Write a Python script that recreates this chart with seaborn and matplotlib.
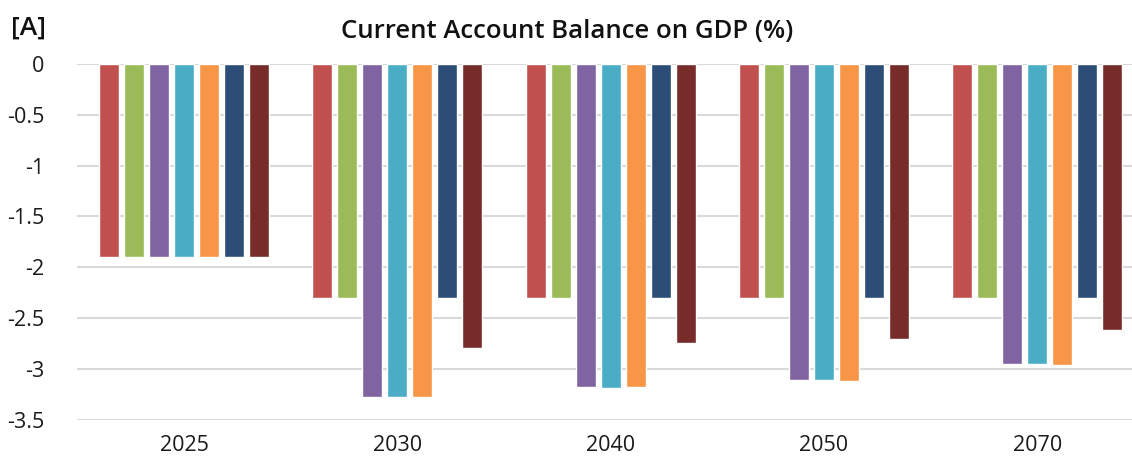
import matplotlib
matplotlib.use("Agg")
import matplotlib.pyplot as plt
import numpy as np
import pandas as pd
import seaborn as sns

years = ["2025", "2030", "2040", "2050", "2070"]
series = ["S1", "S2", "S3", "S4", "S5", "S6", "S7"]
s1 = [-1.90, -2.30, -2.30, -2.30, -2.30]
s2 = [-1.90, -2.30, -2.30, -2.30, -2.30]
s3 = [-1.90, -3.27, -3.18, -3.11, -2.95]
s4 = [-1.90, -3.27, -3.19, -3.11, -2.95]
s5 = [-1.90, -3.27, -3.18, -3.12, -2.96]
s6 = [-1.90, -2.30, -2.30, -2.30, -2.30]
s7 = [-1.90, -2.79, -2.74, -2.70, -2.62]
colors = ["#C0504D", "#9BBB59", "#8064A2", "#4BACC6", "#F79646", "#2C4D75", "#772C2A"]

rows = []
for name, vals in zip(series, [s1, s2, s3, s4, s5, s6, s7]):
    for y, v in zip(years, vals):
        rows.append({"year": y, "series": name, "value": v})
df = pd.DataFrame(rows)

sns.set_theme(style="white")
plt.rcParams["font.family"] = ["Open Sans", "DejaVu Sans"]

fig = plt.figure(figsize=(11.32, 4.63), dpi=100)
ax = fig.add_axes([0.0684, 0.093, 0.942, 0.769])
sns.barplot(data=df, x="year", y="value", hue="series", palette=colors,
            width=0.82, gap=0.2, legend=False, ax=ax, saturation=1)

ax.set_ylim(-3.5, 0)
ax.set_yticks(np.arange(-3.5, 0.01, 0.5))
ax.set_yticklabels(["-3.5", "-3", "-2.5", "-2", "-1.5", "-1", "-0.5", "0"])
ax.yaxis.grid(True, color="#D9D9D9", linewidth=1.5)
ax.set_axisbelow(True)
for sp in ax.spines.values():
    sp.set_visible(False)
ax.tick_params(axis="both", labelsize=15.5, length=0, colors="#1a1a1a")
ax.tick_params(axis="y", pad=24)
ax.tick_params(axis="x", pad=11)
ax.set_xlabel("")
ax.set_ylabel("")

fig.text(0.501, 0.932, "Current Account Balance on GDP (%)", ha="center",
         va="center", fontsize=18.5, fontweight="semibold", color="#111111")
fig.text(0.010, 0.94, "[A]", ha="left", va="center", fontsize=19,
         fontweight="semibold", color="#111111")

fig.savefig("out.png", dpi=100)
